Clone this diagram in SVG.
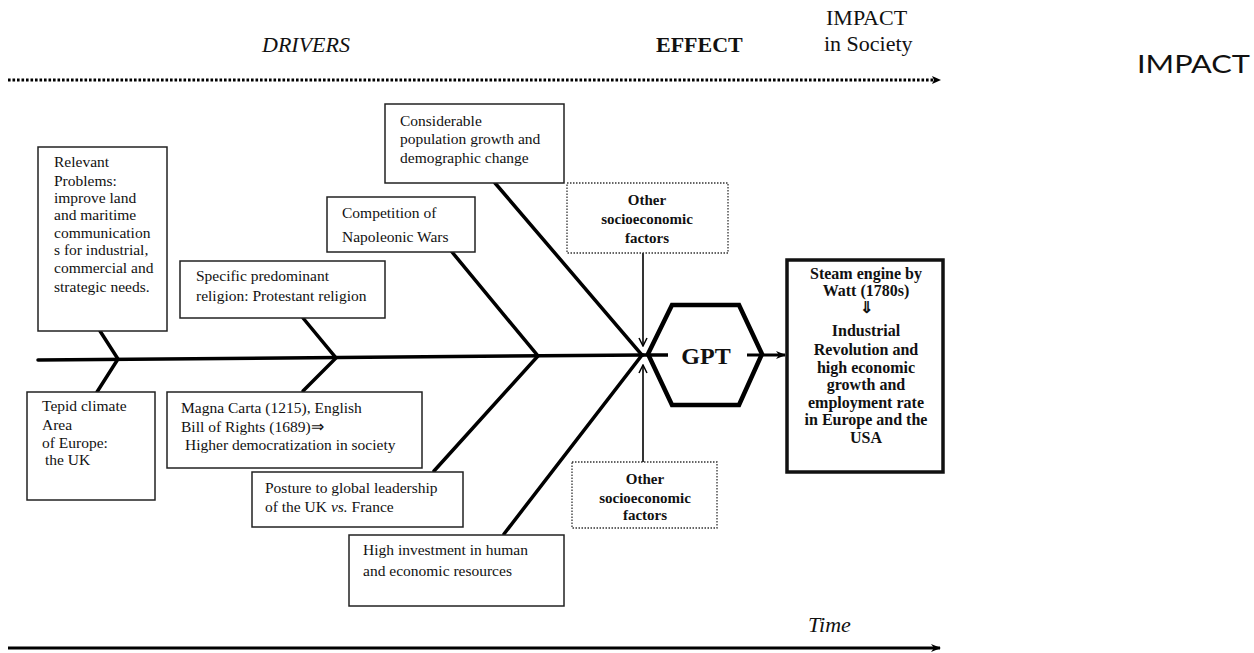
<svg xmlns="http://www.w3.org/2000/svg" width="1254" height="653" viewBox="0 0 1254 653">
  <style>
    .box { fill: #fff; stroke: #222; stroke-width: 1.5; }
    .dbox { fill: #fff; stroke: #333; stroke-width: 1.3; stroke-dasharray: 1.5 1.5; }
    .ebox { fill: #fff; stroke: #111; stroke-width: 3.5; }
    .bone { fill: none; stroke: #000; stroke-width: 3.5; stroke-linecap: round; }
    .t { font-family: "Liberation Serif", "Times New Roman", serif; font-size: 15.5px; fill: #111; }
    .tb { font-family: "Liberation Serif", "Times New Roman", serif; font-size: 15px; font-weight: bold; fill: #111; text-anchor: middle; }
    .te { font-family: "Liberation Serif", "Times New Roman", serif; font-size: 16px; font-weight: bold; fill: #111; text-anchor: middle; }
    .h { font-family: "Liberation Serif", "Times New Roman", serif; font-size: 22px; fill: #111; }
  </style>
  <defs>
    <marker id="vee" viewBox="0 0 10 10" refX="9" refY="5" markerWidth="10" markerHeight="10" markerUnits="userSpaceOnUse" orient="auto">
      <path d="M1,1 L9,5 L1,9" fill="none" stroke="#000" stroke-width="1.5"/>
    </marker>
    <marker id="solid" viewBox="0 0 10 10" refX="9" refY="5" markerWidth="12" markerHeight="10" markerUnits="userSpaceOnUse" orient="auto">
      <path d="M0,1 L10,5 L0,9 L3,5 Z" fill="#000"/>
    </marker>
  </defs>

  <rect width="1254" height="653" fill="#fff"/>

  <!-- headings -->
  <g id="headings">
    <text class="h" x="262" y="52" font-style="italic">DRIVERS</text>
    <text class="h" x="656" y="52" font-weight="bold">EFFECT</text>
    <text class="h" x="826" y="25">IMPACT</text>
    <text class="h" x="824" y="51">in Society</text>
    <text x="1137" y="73" font-family="Lato, 'Open Sans', sans-serif" font-size="25" fill="#111" textLength="113" lengthAdjust="spacingAndGlyphs">IMPACT</text>
    <text class="h" x="808" y="632" font-style="italic">Time</text>
  </g>

  <!-- connectors -->
  <g id="connectors">
    <!-- top dotted time line -->
    <line x1="8" y1="80" x2="936" y2="80" stroke="#000" stroke-width="3" stroke-dasharray="2.6 1.9"/>
    <path d="M932,76 L941,80 L932,84 L934,80 Z" fill="#000"/>
    <!-- bottom time arrow -->
    <line x1="8" y1="648" x2="940" y2="648" stroke="#000" stroke-width="3" marker-end="url(#solid)"/>

    <!-- spine -->
    <line class="bone" x1="38" y1="360" x2="643" y2="355"/>

    <!-- bones -->
    <polyline class="bone" points="100,331 118,359 97,392"/>
    <polyline class="bone" points="303,318 336,358 303,391"/>
    <polyline class="bone" points="452,252 538,356 434,471"/>
    <polyline class="bone" points="495,183 642,355 504,534"/>

    <!-- other factors arrows -->
    <line x1="643" y1="253" x2="643" y2="346" stroke="#000" stroke-width="1.6" marker-end="url(#vee)"/>
    <line x1="643" y1="462" x2="643" y2="365" stroke="#000" stroke-width="1.6" marker-end="url(#vee)"/>
  </g>

  <!-- GPT hexagon -->
  <g id="gpt">
    <path d="M648,354 L672,305 L739,305 L762,354 L739,405 L672,405 Z" fill="#fff" stroke="#000" stroke-width="4.5" stroke-linejoin="miter"/>
    <line x1="640" y1="355" x2="668" y2="355" stroke="#000" stroke-width="3.5"/>
    <line x1="747" y1="355" x2="785" y2="355" stroke="#000" stroke-width="3" marker-end="url(#solid)"/>
    <text x="706" y="364" font-family="Liberation Serif, Times New Roman, serif" font-size="24" font-weight="bold" fill="#111" text-anchor="middle">GPT</text>
  </g>

  <!-- effect box -->
  <g id="effect">
    <rect class="ebox" x="787" y="260" width="156" height="212"/>
    <text class="te" x="866" y="279">Steam engine by</text>
    <text class="te" x="866" y="296">Watt (1780s)</text>
    <text class="te" x="866" y="313">⇓</text>
    <text class="te" x="866" y="336">Industrial</text>
    <text class="te" x="866" y="355">Revolution and</text>
    <text class="te" x="866" y="373">high economic</text>
    <text class="te" x="866" y="390">growth and</text>
    <text class="te" x="866" y="408">employment rate</text>
    <text class="te" x="866" y="425">in Europe and the</text>
    <text class="te" x="866" y="443">USA</text>
  </g>

  <!-- other factors boxes -->
  <g id="other-top">
    <rect class="dbox" x="567" y="183" width="161" height="70"/>
    <text class="tb" x="647" y="205">Other</text>
    <text class="tb" x="647" y="224">socioeconomic</text>
    <text class="tb" x="647" y="243">factors</text>
  </g>
  <g id="other-bottom">
    <rect class="dbox" x="572" y="462" width="145" height="66"/>
    <text class="tb" x="645" y="484">Other</text>
    <text class="tb" x="645" y="503">socioeconomic</text>
    <text class="tb" x="645" y="520">factors</text>
  </g>

  <!-- driver boxes -->
  <g id="problems">
    <rect class="box" x="38" y="147" width="129" height="184"/>
    <text class="t" x="54" y="167">Relevant</text>
    <text class="t" x="54" y="186">Problems:</text>
    <text class="t" x="54" y="203">improve land</text>
    <text class="t" x="54" y="220">and maritime</text>
    <text class="t" x="54" y="238">communication</text>
    <text class="t" x="54" y="255">s for industrial,</text>
    <text class="t" x="54" y="273">commercial and</text>
    <text class="t" x="54" y="292">strategic needs.</text>
  </g>
  <g id="religion">
    <rect class="box" x="180" y="261" width="205" height="57"/>
    <text class="t" x="196" y="281">Specific predominant</text>
    <text class="t" x="196" y="301">religion: Protestant religion</text>
  </g>
  <g id="napoleonic">
    <rect class="box" x="327" y="197" width="148" height="55"/>
    <text class="t" x="342" y="218">Competition of</text>
    <text class="t" x="342" y="242">Napoleonic Wars</text>
  </g>
  <g id="population">
    <rect class="box" x="385" y="104" width="179" height="79"/>
    <text class="t" x="400" y="126">Considerable</text>
    <text class="t" x="400" y="144">population growth and</text>
    <text class="t" x="400" y="163">demographic change</text>
  </g>
  <g id="climate">
    <rect class="box" x="27" y="392" width="128" height="108"/>
    <text class="t" x="42" y="411">Tepid climate</text>
    <text class="t" x="42" y="430">Area</text>
    <text class="t" x="42" y="448">of Europe:</text>
    <text class="t" x="45" y="465">the UK</text>
  </g>
  <g id="magna-carta">
    <rect class="box" x="167" y="392" width="255" height="76"/>
    <text class="t" x="181" y="413">Magna Carta (1215), English</text>
    <text class="t" x="181" y="432">Bill of Rights (1689)⇒</text>
    <text class="t" x="185" y="450">Higher democratization in society</text>
  </g>
  <g id="posture">
    <rect class="box" x="252" y="472" width="211" height="55"/>
    <text class="t" x="265" y="493">Posture to global leadership</text>
    <text class="t" x="265" y="512">of the UK <tspan font-style="italic">vs.</tspan> France</text>
  </g>
  <g id="investment">
    <rect class="box" x="349" y="535" width="215" height="71"/>
    <text class="t" x="363" y="555">High investment in human</text>
    <text class="t" x="363" y="576">and economic resources</text>
  </g>
</svg>
